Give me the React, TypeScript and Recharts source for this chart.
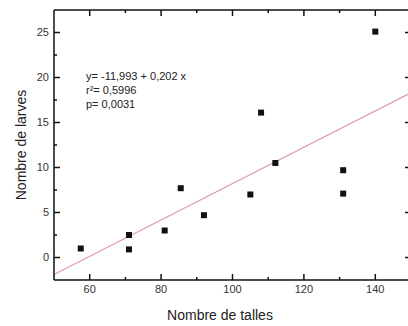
import React from "react";
import {
  ScatterChart,
  Scatter,
  XAxis,
  YAxis,
  ReferenceLine,
} from "recharts";

// nombre de talles (x) et nombre de larves (y)
const talles = [57.5, 71, 71, 81, 85.5, 92, 105, 108, 112, 131, 131, 140];
const larves = [1, 0.9, 2.5, 3, 7.7, 4.7, 7, 16.1, 10.5, 9.7, 7.1, 25.1];

const xLabels = [60, 80, 100, 120, 140];
const xMinor = [70, 90, 110, 130];
const yLabels = [0, 5, 10, 15, 20, 25];
const yMinor = [2.5, 7.5, 12.5, 17.5, 22.5];

// droite de régression
const intercept = -11.993;
const slope = 0.202;
const statLines = ["y= -11,993 + 0,202 x", "r²= 0,5996", "p= 0,0031"];

const data = talles.map((x, i) => ({ x, y: larves[i] }));

const X_DOMAIN: [number, number] = [50, 150];
const Y_DOMAIN: [number, number] = [-2.5, 27.5];

const INK = "#111";
const FONT = "Liberation Sans, Arial, sans-serif";

// inward tick marks at both ends of a full-height / full-width reference line
const vTick = (len: number) => (p: any) => {
  const top = Math.min(p.y1, p.y2);
  const bot = Math.max(p.y1, p.y2);
  return (
    <g>
      <line x1={p.x1} x2={p.x1} y1={bot} y2={bot - len} stroke={INK} strokeWidth={1.5} />
      <line x1={p.x1} x2={p.x1} y1={top} y2={top + len} stroke={INK} strokeWidth={1.5} />
    </g>
  );
};

const hTick = (len: number) => (p: any) => {
  const l = Math.min(p.x1, p.x2);
  const r = Math.max(p.x1, p.x2);
  return (
    <g>
      <line x1={l} x2={l + len} y1={p.y1} y2={p.y1} stroke={INK} strokeWidth={1.5} />
      <line x1={r} x2={r - len} y1={p.y1} y2={p.y1} stroke={INK} strokeWidth={1.5} />
    </g>
  );
};

const SquarePoint = ({ cx, cy }: any) => (
  <rect x={cx - 3} y={cy - 3} width={6} height={6} fill="#111" />
);

export default function App() {
  return (
    <div
      style={{
        position: "absolute",
        left: 0,
        top: 0,
        width: 408,
        height: 326,
        overflow: "hidden",
        background: "#fff",
        fontFamily: FONT,
      }}
    >
      <ScatterChart width={411} height={326} margin={{ top: 10, right: 0, bottom: 0, left: 0 }}>
        <XAxis
          dataKey="x"
          type="number"
          domain={X_DOMAIN}
          ticks={xLabels}
          interval={0}
          allowDataOverflow
          tickSize={0}
          tickMargin={5}
          tickLine={false}
          height={46}
          axisLine={{ stroke: INK, strokeWidth: 1.5 }}
          tick={{ fontSize: 11, fill: "#333", fontFamily: FONT }}
          label={{
            content: () => (
              <text x={220} y={320} textAnchor="middle" fontSize={14} fill="#222" fontFamily={FONT}>
                Nombre de talles
              </text>
            ),
          }}
        />
        <YAxis
          dataKey="y"
          type="number"
          domain={Y_DOMAIN}
          ticks={yLabels}
          interval={0}
          allowDataOverflow
          tickSize={0}
          tickMargin={5}
          tickLine={false}
          width={54}
          axisLine={{ stroke: INK, strokeWidth: 1.5 }}
          tick={{ fontSize: 11, fill: "#333", fontFamily: FONT }}
          label={{
            content: () => (
              <text
                x={0}
                y={0}
                transform="translate(26, 145) rotate(-90)"
                textAnchor="middle"
                fontSize={14}
                fill="#222"
                fontFamily={FONT}
              >
                Nombre de larves
              </text>
            ),
          }}
        />
        {/* cadre haut et droit */}
        <ReferenceLine y={Y_DOMAIN[1]} stroke={INK} strokeWidth={1.5} ifOverflow="visible" />
        <ReferenceLine x={X_DOMAIN[1]} stroke={INK} strokeWidth={1.5} ifOverflow="visible" />
        {xLabels.map((v) => (
          <ReferenceLine key={`xm${v}`} x={v} shape={vTick(6)} />
        ))}
        {xMinor.map((v) => (
          <ReferenceLine key={`xn${v}`} x={v} shape={vTick(3)} />
        ))}
        {yLabels.map((v) => (
          <ReferenceLine key={`ym${v}`} y={v} shape={hTick(6)} />
        ))}
        {yMinor.map((v) => (
          <ReferenceLine key={`yn${v}`} y={v} shape={hTick(3)} />
        ))}
        <ReferenceLine
          segment={[
            { x: X_DOMAIN[0], y: intercept + slope * X_DOMAIN[0] },
            { x: X_DOMAIN[1], y: intercept + slope * X_DOMAIN[1] },
          ]}
          stroke="#d9a3a8"
          strokeWidth={1.3}
          ifOverflow="visible"
        />
        <Scatter data={data} shape={<SquarePoint />} isAnimationActive={false} />
      </ScatterChart>
      <div
        style={{
          position: "absolute",
          left: 86,
          top: 69,
          fontSize: 11,
          lineHeight: "14px",
          color: "#222",
          fontFamily: FONT,
          whiteSpace: "nowrap",
        }}
      >
        {statLines.map((s) => (
          <div key={s}>{s}</div>
        ))}
      </div>
    </div>
  );
}
